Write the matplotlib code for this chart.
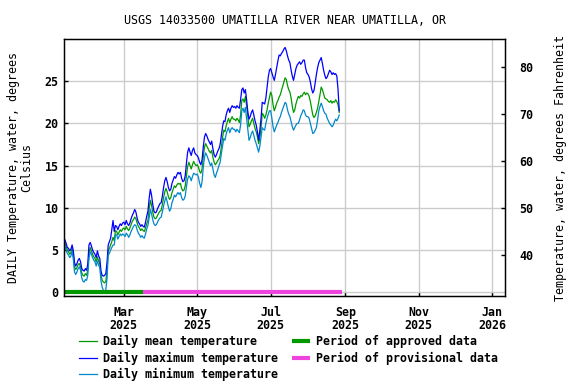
import numpy as np
import pandas as pd
import matplotlib
matplotlib.use('Agg')
import matplotlib.pyplot as plt
import matplotlib.dates as mdates

plt.rcParams['font.family'] = 'DejaVu Sans Mono'
plt.rcParams['font.weight'] = 'bold'
plt.rcParams['font.size'] = 8.4

#daily values, Jan 11 2025 to Aug 27 2025 (deg C)
start_date = '2025-01-11'

t_mean = [
    # Jan 11-31
    5.8, 5.4, 5.0, 4.8, 4.5, 4.7, 5.2, 4.4, 3.0, 2.7, 2.9, 3.3, 3.4, 3.0, 2.3, 2.0, 1.9, 2.2, 2.0, 2.6, 4.6,
    # Feb
    5.3, 4.9, 4.5, 4.2, 4.0, 3.6, 4.2, 3.7, 3.4, 2.0, 1.4, 1.2, 1.1, 1.3, 2.5, 4.9, 5.2, 5.6, 6.0, 6.5,
    6.1, 7.3, 7.2, 6.8, 7.1, 7.4, 7.2, 7.5,
    # Mar
    7.6, 7.4, 7.8, 7.5, 7.3, 7.6, 8.0, 8.4, 8.6, 8.9, 8.7, 8.2, 7.8, 7.6, 7.3, 7.5, 7.3, 7.2, 7.6, 8.1,
    8.5, 9.8, 10.9, 10.3, 9.5, 8.9, 8.7, 8.8, 9.1, 9.4, 9.6,
    # Apr
    9.7, 10.4, 11.2, 11.9, 12.3, 11.9, 11.3, 11.0, 11.2, 11.8, 12.2, 12.6, 12.4, 12.7, 12.9, 12.8, 12.9,
    12.3, 12.0, 12.1, 12.6, 13.8, 14.9, 15.4, 15.0, 14.6, 15.1, 15.5, 15.2, 15.0,
    # May
    15.1, 14.8, 14.3, 14.1, 14.6, 16.0, 17.2, 17.6, 17.3, 17.0, 16.7, 16.5, 16.8, 16.0, 15.4, 15.1, 15.3,
    15.6, 15.8, 16.2, 17.2, 18.3, 19.2, 19.0, 19.7, 20.2, 20.6, 20.1, 20.5, 20.8, 20.5,
    # Jun
    20.5, 20.3, 20.6, 20.4, 20.1, 21.0, 22.7, 22.9, 22.5, 23.2, 22.1, 20.8, 19.6, 19.9, 20.3, 20.6, 20.0,
    19.4, 19.0, 18.4, 17.6, 18.3, 19.5, 21.2, 21.0, 20.6, 21.0, 21.6, 22.4, 23.1,
    # Jul
    23.7, 23.3, 22.2, 21.5, 21.9, 22.4, 22.7, 23.1, 23.4, 23.9, 24.4, 24.9, 25.4, 25.2, 24.5, 24.0, 23.7,
    23.0, 22.0, 21.3, 21.6, 22.3, 22.8, 23.2, 23.0, 23.3, 23.2, 23.5, 23.7, 23.4, 23.6,
    # Aug 1-27
    23.5, 23.2, 22.6, 21.8, 21.0, 20.7, 20.9, 21.3, 21.8, 22.6, 23.4, 24.3, 24.0, 23.5, 23.0, 22.9, 22.8,
    22.6, 22.5, 22.7, 22.4, 22.6, 22.5, 22.8, 22.6, 22.2, 21.3,
]

t_max = [
    6.2, 5.8, 5.3, 5.2, 4.9, 5.1, 5.6, 4.9, 3.5, 3.1, 3.4, 3.8, 4.0, 3.6, 2.8, 2.6, 2.5, 2.8, 2.6, 3.3, 5.6,
    5.9, 5.5, 5.0, 4.7, 4.5, 4.1, 4.9, 4.3, 4.0, 2.5, 2.0, 1.9, 2.0, 2.2, 3.5, 5.6, 6.0, 6.4, 7.5, 8.5,
    7.2, 7.9, 7.8, 7.4, 7.8, 8.1, 7.9, 8.2,
    8.3, 8.0, 8.5, 8.1, 7.9, 8.2, 8.7, 9.1, 9.4, 9.8, 9.5, 8.8, 8.3, 8.1, 7.8, 8.0, 7.8, 7.7, 8.3, 9.0,
    9.6, 11.1, 12.2, 11.5, 10.4, 9.6, 9.4, 9.5, 9.9, 10.2, 10.5,
    10.6, 11.4, 12.4, 13.2, 13.6, 13.1, 12.4, 12.0, 12.2, 12.9, 13.3, 13.7, 13.5, 13.9, 14.2, 14.0, 14.2,
    13.5, 13.1, 13.2, 13.8, 15.3, 16.6, 17.1, 16.6, 16.2, 16.8, 17.1, 16.5, 16.3,
    16.2, 15.9, 15.4, 15.1, 15.7, 17.2, 18.4, 18.8, 18.5, 18.1, 17.8, 17.5, 17.9, 17.0, 16.3, 16.0, 16.3,
    16.7, 17.0, 17.5, 18.6, 19.6, 20.3, 20.2, 21.0, 21.5, 21.8, 21.3, 21.8, 22.1, 21.9,
    22.0, 21.8, 22.1, 21.9, 21.8, 22.8, 24.0, 24.2, 23.6, 24.0, 22.8, 21.4, 20.5, 20.8, 21.3, 21.6, 21.0,
    20.3, 19.8, 19.0, 18.0, 19.2, 20.6, 22.5, 22.4, 22.3, 23.0, 24.2, 25.5, 26.3,
    26.5, 26.0, 25.5, 25.1, 25.8, 26.6, 27.4, 28.1, 28.0, 28.3, 28.5, 28.8, 29.0, 28.6, 28.0, 27.5, 27.2,
    26.3, 25.6, 25.1, 25.8, 26.5, 26.9, 27.1, 27.3, 27.0, 27.2, 27.5, 27.5, 26.6, 26.0,
    25.8, 25.5, 24.9, 24.1, 23.6, 23.9, 24.8, 25.8, 26.6, 27.2, 27.5, 27.8, 27.1, 26.3, 25.7, 25.3, 25.5,
    25.9, 26.3, 26.1, 25.8, 26.0, 25.8, 25.9, 25.6, 24.0, 21.5,
]

t_min = [
    5.5, 5.0, 4.6, 4.4, 4.1, 4.3, 4.8, 3.9, 2.4, 2.1, 2.4, 2.8, 3.0, 2.6, 1.7, 1.3, 1.2, 1.5, 1.4, 2.0, 4.0,
    4.8, 4.5, 4.1, 3.8, 3.6, 3.1, 3.7, 3.2, 2.9, 1.3, 0.6, 0.2, 0.0, 0.3, 1.6, 4.4, 4.6, 5.0, 5.3, 5.6,
    5.6, 6.8, 6.8, 6.3, 6.6, 6.9, 6.7, 6.9,
    6.8, 6.6, 7.0, 6.8, 6.5, 6.8, 7.2, 7.5, 7.8, 8.0, 7.9, 7.4, 7.0, 6.8, 6.5, 6.7, 6.5, 6.4, 6.9, 7.5,
    7.9, 8.8, 9.8, 9.3, 8.6, 8.1, 7.9, 8.0, 8.3, 8.6, 8.8,
    8.9, 9.5, 10.2, 10.8, 11.3, 10.7, 10.1, 9.6, 9.9, 10.6, 11.0, 11.5, 11.3, 11.6, 11.8, 11.6, 11.8,
    11.2, 10.9, 11.0, 11.4, 12.5, 13.4, 13.8, 13.6, 13.2, 13.7, 14.1, 14.0, 13.9,
    14.0, 13.6, 12.9, 12.4, 13.1, 14.8, 16.0, 16.5, 16.2, 15.8, 15.4, 15.0, 15.3, 14.6, 13.9, 13.6, 14.1,
    14.5, 15.0, 15.4, 16.4, 17.3, 18.2, 18.0, 18.7, 19.2, 19.5, 18.9, 19.3, 19.5, 19.3,
    19.3, 19.0, 19.3, 19.1, 18.9, 19.8, 21.5, 21.8, 21.3, 21.9, 20.6, 19.2, 18.0, 18.3, 18.8, 19.1, 18.6,
    18.0, 17.6, 17.1, 16.6, 17.3, 18.4, 19.5, 19.3, 19.2, 20.0, 20.6, 21.1, 21.5,
    21.5, 20.6, 19.6, 19.0, 19.4, 19.8, 20.1, 20.5, 20.8, 21.3, 21.7, 22.1, 22.5, 22.3, 21.6, 21.1, 20.8,
    20.2, 19.6, 19.2, 19.5, 19.8, 20.0, 20.0, 20.4, 20.9, 21.2, 21.6, 21.5, 21.0, 20.8,
    20.8, 20.6, 20.0, 19.4, 18.8, 18.9, 19.2, 19.5, 20.4, 21.5, 22.0, 22.4, 22.0, 21.5, 21.2, 21.1, 20.6,
    20.3, 20.0, 19.8, 19.6, 19.8, 20.2, 20.5, 20.3, 20.6, 21.0,
]

#approval periods
approved_period = ['2025-01-10', '2025-03-17']
provisional_period = ['2025-03-17', '2025-08-29']

dates = pd.date_range(start_date, periods=len(t_mean), freq='D')

green = '#009900'
blue = '#0000ff'
lightblue = '#0088cc'
magenta = '#ee44dd'

fig = plt.figure(figsize=(5.76, 3.84), dpi=100)
ax = fig.add_axes([64/576, 1 - 296/384, 441/576, 257/384])

ax.plot(dates, t_mean, color=green, lw=0.9, label='Daily mean temperature')
ax.plot(dates, t_max, color=blue, lw=0.9, label='Daily maximum temperature')
ax.plot(dates, t_min, color=lightblue, lw=0.9, label='Daily minimum temperature')

ax.plot(pd.to_datetime(approved_period), [0, 0], color=green, lw=3,
        solid_capstyle='butt', label='Period of approved data')
ax.plot(pd.to_datetime(provisional_period), [0, 0], color=magenta, lw=3,
        solid_capstyle='butt', label='Period of provisional data')

ax.set_xlim(pd.Timestamp('2025-01-10 06:00'), pd.Timestamp('2026-01-11 18:00'))
ylo, yhi = -0.45, 30.0
ax.set_ylim(ylo, yhi)
ax.set_yticks([0, 5, 10, 15, 20, 25])

ax.xaxis.set_major_locator(mdates.MonthLocator(bymonth=[1, 3, 5, 7, 9, 11]))
ax.xaxis.set_major_formatter(mdates.DateFormatter('%b\n%Y'))
ax.grid(True, color='#cccccc', lw=1)
ax.set_axisbelow(True)
ax.tick_params(direction='in', length=3, width=1, pad=4)
ax.tick_params(axis='x', pad=7)
for lab in ax.get_xticklabels():
    lab.set_linespacing(1.05)
for s in ax.spines.values():
    s.set_linewidth(1)

ax.set_ylabel('DAILY Temperature, water, degrees\nCelsius', labelpad=8, linespacing=1.05)
ax.set_title('USGS 14033500 UMATILLA RIVER NEAR UMATILLA, OR', fontsize=8.4, pad=11)

#fahrenheit axis on the right
ax2 = ax.twinx()
ax2.set_ylim(ylo * 9 / 5 + 32, yhi * 9 / 5 + 32)
ax2.set_yticks([40, 50, 60, 70, 80])
ax2.tick_params(direction='in', length=3, width=1, pad=10)
ax2.set_ylabel('Temperature, water, degrees Fahrenheit', labelpad=15)

handles, labels = ax.get_legend_handles_labels()
fig.legend(handles, labels, ncol=2, loc='upper left', bbox_to_anchor=(79/576, 1 - 335/384),
           frameon=False, handlelength=1.55, handletextpad=0.5, columnspacing=1.2,
           labelspacing=0.3, borderpad=0, borderaxespad=0)

plt.savefig('out.png', dpi=100)
